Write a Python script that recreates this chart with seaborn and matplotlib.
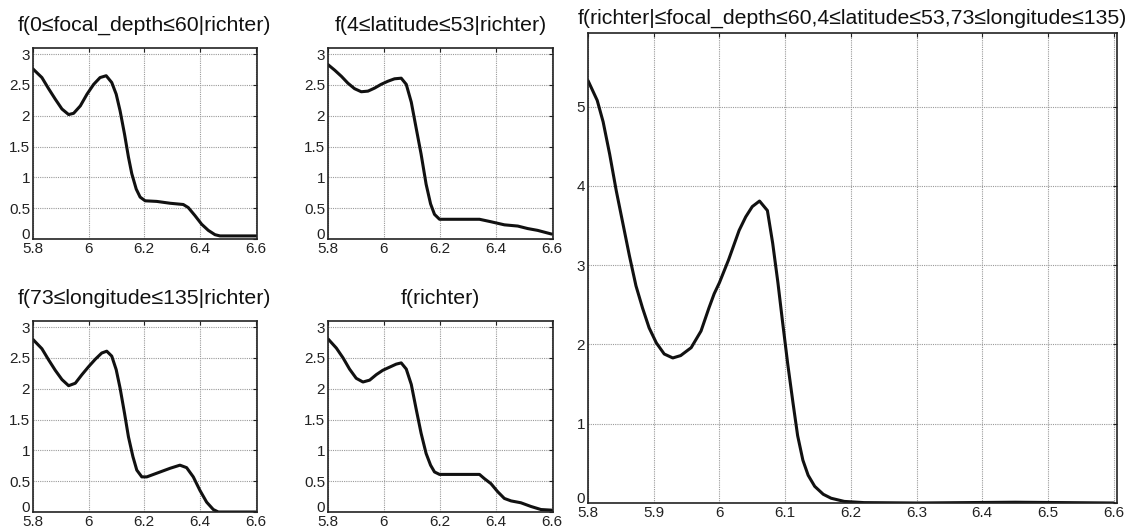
import numpy as np
import seaborn as sns
import matplotlib.pyplot as plt
from matplotlib.ticker import FuncFormatter

# values, per panel
depth_x = [5.8, 5.832, 5.856, 5.880, 5.904, 5.928, 5.946, 5.970, 5.994, 6.018, 6.041, 6.063,
           6.083, 6.099, 6.113, 6.129, 6.143, 6.155, 6.171, 6.185, 6.203, 6.245, 6.293, 6.340,
           6.358, 6.382, 6.406, 6.430, 6.454, 6.472, 6.6]
depth_y = [2.76, 2.62, 2.44, 2.27, 2.11, 2.02, 2.04, 2.16, 2.35, 2.51, 2.62, 2.65,
           2.54, 2.35, 2.08, 1.70, 1.33, 1.06, 0.81, 0.68, 0.62, 0.61, 0.58, 0.56,
           0.51, 0.38, 0.24, 0.14, 0.07, 0.05, 0.05]

lat_x = [5.8, 5.824, 5.848, 5.871, 5.895, 5.919, 5.943, 5.967, 5.990, 6.014, 6.038, 6.062,
         6.080, 6.098, 6.115, 6.133, 6.151, 6.167, 6.181, 6.199, 6.264, 6.342, 6.383, 6.431,
         6.479, 6.514, 6.55, 6.6]
lat_y = [2.83, 2.74, 2.64, 2.53, 2.44, 2.39, 2.40, 2.45, 2.51, 2.56, 2.60, 2.61,
         2.51, 2.22, 1.81, 1.38, 0.89, 0.57, 0.40, 0.32, 0.32, 0.32, 0.28, 0.23,
         0.21, 0.17, 0.14, 0.08]

lon_x = [5.8, 5.832, 5.856, 5.880, 5.904, 5.928, 5.952, 5.976, 6.0, 6.024, 6.047, 6.065,
         6.083, 6.099, 6.113, 6.129, 6.143, 6.159, 6.173, 6.191, 6.209, 6.245, 6.293, 6.328,
         6.352, 6.376, 6.4, 6.424, 6.448, 6.466, 6.6]
lon_y = [2.80, 2.65, 2.47, 2.30, 2.15, 2.05, 2.09, 2.23, 2.36, 2.48, 2.58, 2.61,
         2.53, 2.31, 2.01, 1.60, 1.22, 0.90, 0.68, 0.57, 0.57, 0.63, 0.71, 0.76,
         0.72, 0.57, 0.35, 0.16, 0.04, 0.0, 0.0]

rich_x = [5.8, 5.830, 5.854, 5.877, 5.901, 5.925, 5.949, 5.973, 5.996, 6.020, 6.044, 6.062,
          6.080, 6.098, 6.115, 6.133, 6.151, 6.167, 6.181, 6.199, 6.342, 6.360, 6.383, 6.407,
          6.431, 6.455, 6.490, 6.526, 6.562, 6.6]
rich_y = [2.81, 2.66, 2.50, 2.32, 2.17, 2.11, 2.14, 2.23, 2.30, 2.35, 2.40, 2.42,
          2.32, 2.07, 1.68, 1.28, 0.95, 0.76, 0.65, 0.61, 0.61, 0.54, 0.46, 0.33,
          0.22, 0.18, 0.15, 0.09, 0.04, 0.03]

joint_x = [5.8, 5.814, 5.823, 5.833, 5.843, 5.853, 5.863, 5.873, 5.883, 5.893, 5.904, 5.916,
           5.929, 5.941, 5.957, 5.972, 5.984, 5.992, 6.0, 6.014, 6.030, 6.040, 6.050, 6.061,
           6.073, 6.081, 6.089, 6.096, 6.104, 6.112, 6.119, 6.127, 6.135, 6.145, 6.158, 6.17,
           6.19, 6.22, 6.3, 6.45, 6.6]
joint_y = [5.33, 5.08, 4.81, 4.40, 3.94, 3.53, 3.12, 2.74, 2.46, 2.21, 2.02, 1.88,
           1.83, 1.86, 1.96, 2.17, 2.46, 2.64, 2.78, 3.07, 3.44, 3.61, 3.74, 3.81,
           3.69, 3.28, 2.78, 2.29, 1.75, 1.26, 0.85, 0.54, 0.35, 0.21, 0.11, 0.06,
           0.02, 0.005, 0.0, 0.01, 0.0]

small_titles = ['f(0≤focal_depth≤60|richter)', 'f(4≤latitude≤53|richter)',
                'f(73≤longitude≤135|richter)', 'f(richter)']
big_title = 'f(richter|≤focal_depth≤60,4≤latitude≤53,73≤longitude≤135)'

sns.set_theme(style='white')
plt.rcParams['font.family'] = ['Liberation Sans', 'DejaVu Sans']

W, H = 1139, 531
fig = plt.figure(figsize=(W / 100, H / 100), dpi=100)


def box(l, r, t, b):
    return [l / W, (H - b) / H, (r - l) / W, (b - t) / H]


def style(ax, ylim, xticks, yticks):
    ax.set_xlim(5.8, 6.605)
    ax.set_ylim(*ylim)
    ax.set_xticks(xticks)
    ax.set_yticks(yticks)
    fmt = FuncFormatter(lambda v, p: f'{v:g}')
    ax.xaxis.set_major_formatter(fmt)
    ax.yaxis.set_major_formatter(fmt)
    ax.grid(True, color='#9a9a9a', linestyle=(0, (1, 1)), linewidth=0.8)
    ax.tick_params(direction='in', length=3, width=0.8, labelsize=11, colors='#222222',
                   top=True, right=True, pad=2)
    for s in ax.spines.values():
        s.set_color('#222222')
        s.set_linewidth(1.2)
    ax.set_xlabel('')
    ax.set_ylabel('')
    # keep the "0" on the y axis sitting on the baseline, clear of the x labels
    ax.get_yticklabels()[0].set_verticalalignment('baseline')


small = [
    (depth_x, depth_y, box(33, 257, 48, 239)),
    (lat_x, lat_y, box(328, 553, 48, 239)),
    (lon_x, lon_y, box(33, 257, 321, 512)),
    (rich_x, rich_y, box(328, 553, 321, 512)),
]

for (xs, ys, rect), title in zip(small, small_titles):
    ax = fig.add_axes(rect)
    sns.lineplot(x=xs, y=ys, ax=ax, color='#111111', linewidth=2.2)
    style(ax, (0, 3.1), [5.8, 6.0, 6.2, 6.4, 6.6], [0, 0.5, 1, 1.5, 2, 2.5, 3])
    ax.set_title(title, fontsize=15.3, pad=12.5, color='#111111')

ax = fig.add_axes(box(588, 1117, 33, 503))
sns.lineplot(x=joint_x, y=joint_y, ax=ax, color='#111111', linewidth=2.2)
style(ax, (0, 5.93), np.round(np.arange(5.8, 6.65, 0.1), 1), [0, 1, 2, 3, 4, 5])
ax.set_title(big_title, fontsize=15.3, pad=7, color='#111111')

fig.savefig('out.png', dpi=100)
